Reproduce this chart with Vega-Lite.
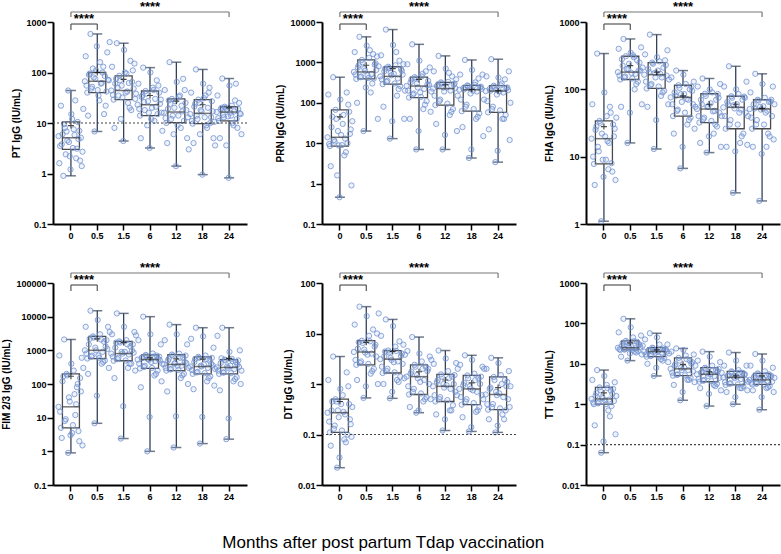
{
"$schema":"https://vega.github.io/schema/vega-lite/v6.json",
"padding":{"left":1,"top":0,"right":0,"bottom":0},
"columns":3,
"spacing":{"row":21,"column":27},
"title":{"text":"Months after post partum Tdap vaccination","orient":"bottom","anchor":"middle","fontSize":17,"fontWeight":"normal","font":"Liberation Sans","color":"black","offset":34,"dx":-8},
"config":{"view":{"stroke":null},"font":"Liberation Sans",
"axis":{"grid":false,"domainColor":"black","domainWidth":2,"tickColor":"black","tickWidth":1.5,"tickSize":6,"labelFont":"Liberation Sans","labelFontSize":9,"labelFontWeight":"bold","labelColor":"black","labelPadding":1,"titleFont":"Liberation Sans","titleFontSize":10,"titleFontWeight":"bold","titleColor":"black","titlePadding":4}},
"concat":[
{"width":194,"height":202,"layer":[
 {"data":{"values":[
  {"m":"0","min":0.9,"q1":3,"med":5.1,"q3":10.5,"max":44,"mean":8.9,"v":[5.5,1.6,3.5,22,3.8,6,0.9,9.5,8,2.4,6.8,4.5,44,4.2,2.2,1.2,15,12,3.2,7.5,5.8,28,2.0,3.1,10.5,4.8,7,1.8,5.1,1.4,2.7,19]},
  {"m":"0.5","min":6.8,"q1":40,"med":67,"q3":100,"max":580,"mean":100,"v":[67,210,55,40,14,90,95,580,48,52,120,80,6.8,75,110,330,45,35,28,160,60,62,100,130,15,85,22,42,250,72,70,400]},
  {"m":"1.5","min":4.4,"q1":29,"med":44,"q3":86,"max":380,"mean":73,"v":[44,130,36,29,8,60,75,380,50,35,86,70,12,55,32,4.4,280,100,40,95,42,25,62,20,170,18,65,110,48,150,30,38]},
  {"m":"6","min":3.2,"q1":14,"med":23,"q3":43,"max":125,"mean":35,"v":[23,60,19,14,5,33,35,125,26,18,43,38,9,27,16,3.2,100,12,20,50,45,11,30,21,70,15,55,40,24,29,16,7]},
  {"m":"12","min":1.4,"q1":10.2,"med":16.5,"q3":30,"max":160,"mean":27,"v":[16,45,12.5,10,4,19,28,160,24,12,30,14,6,20,27,1.4,65,9,14,33,35,8,22,17,75,11,45,25,18,5,13,3]},
  {"m":"18","min":0.95,"q1":9.7,"med":15.5,"q3":29,"max":115,"mean":23,"v":[15,40,11,9.7,4,21,24,115,14,12,29,25,6,18,17,0.95,60,31,13,35,9,8,20,40,50,10,13,27,17,5,10.5,3.6]},
  {"m":"24","min":0.82,"q1":11,"med":16.5,"q3":21,"max":76,"mean":20,"v":[16.5,35,12.5,11,5,18.5,20,76,14.5,13,21,20,3.6,18,13.5,0.82,55,16,14,22,10,9,17,28,60,12,8,19,25,15.5,15,6]}
 ]},
 "encoding":{"x":{"field":"m","type":"ordinal","sort":null,"scale":{"domain":["0","0.5","1.5","6","12","18","24"],"paddingInner":0,"paddingOuter":0.18},"axis":{"title":null,"labelAngle":0}}},
 "layer":[
  {"mark":{"type":"rule","color":"#33425a","strokeWidth":1.3},"encoding":{"y":{"field":"min","type":"quantitative","scale":{"type":"log","domain":[0.1,1000],"nice":false},"axis":{"title":"PT IgG (IU/mL)","values":[0.1,1,10,100,1000],"format":"~g"}},"y2":{"field":"max"}}},
  {"mark":{"type":"tick","color":"#33425a","size":10,"thickness":1.5},"encoding":{"y":{"field":"min","type":"quantitative"}}},
  {"mark":{"type":"tick","color":"#33425a","size":10,"thickness":1.5},"encoding":{"y":{"field":"max","type":"quantitative"}}},
  {"mark":{"type":"bar","width":17,"fill":"white","stroke":"#4a4a4a","strokeWidth":1.3},"encoding":{"y":{"field":"q1","type":"quantitative"},"y2":{"field":"q3"}}},
  {"transform":[{"flatten":["v"]},{"window":[{"op":"row_number","as":"s"}],"groupby":["m"]}],"mark":{"type":"point","filled":true,"size":28,"stroke":"#7394d2","strokeWidth":1,"strokeOpacity":0.8,"fill":"#7394d2","fillOpacity":0.12},"encoding":{"y":{"field":"v","type":"quantitative"},"xOffset":{"field":"s","type":"nominal","scale":{"paddingOuter":5.5}}}},
  {"mark":{"type":"tick","color":"#3a3a3a","size":17,"thickness":1.5},"encoding":{"y":{"field":"med","type":"quantitative"}}},
  {"mark":{"type":"point","shape":"M-1,0L1,0M0,-1L0,1","size":36,"stroke":"black","strokeWidth":1.2,"filled":false},"encoding":{"y":{"field":"mean","type":"quantitative"}}}
 ]},
 {"data":{"values":[{}]},"mark":{"type":"rule","color":"#444","strokeDash":[2,2],"strokeWidth":1.2},"encoding":{"y":{"datum":10,"type":"quantitative"}}},
 {"data":{"values":[{}]},"mark":{"type":"rule","color":"#555","strokeWidth":1.2},"encoding":{"x":{"datum":"0","type":"ordinal"},"x2":{"datum":"0.5"},"y":{"datum":912,"type":"quantitative"}}},
 {"data":{"values":[{}]},"mark":{"type":"rule","color":"#555","strokeWidth":1.2},"encoding":{"x":{"datum":"0","type":"ordinal"},"y":{"datum":912,"type":"quantitative"},"y2":{"datum":695}}},
 {"data":{"values":[{}]},"mark":{"type":"rule","color":"#555","strokeWidth":1.2},"encoding":{"x":{"datum":"0.5","type":"ordinal"},"y":{"datum":912,"type":"quantitative"},"y2":{"datum":695}}},
 {"data":{"values":[{}]},"mark":{"type":"rule","color":"#777","strokeWidth":1.2},"encoding":{"x":{"datum":"0","type":"ordinal"},"x2":{"datum":"24"},"y":{"datum":1578,"type":"quantitative"}}},
 {"data":{"values":[{}]},"mark":{"type":"rule","color":"#777","strokeWidth":1.2},"encoding":{"x":{"datum":"0","type":"ordinal"},"y":{"datum":1578,"type":"quantitative"},"y2":{"datum":1256}}},
 {"data":{"values":[{}]},"mark":{"type":"rule","color":"#777","strokeWidth":1.2},"encoding":{"x":{"datum":"24","type":"ordinal"},"y":{"datum":1578,"type":"quantitative"},"y2":{"datum":1256}}},
 {"data":{"values":[{}]},"mark":{"type":"text","text":"****","fontSize":13,"fontWeight":"bold","baseline":"alphabetic","dx":13,"dy":-1},"encoding":{"x":{"datum":"0","type":"ordinal"},"y":{"datum":912,"type":"quantitative"}}},
 {"data":{"values":[{}]},"mark":{"type":"text","text":"****","fontSize":13,"fontWeight":"bold","baseline":"alphabetic","dy":-1},"encoding":{"x":{"datum":"6","type":"ordinal"},"y":{"datum":1578,"type":"quantitative"}}}
]},
{"width":194,"height":202,"layer":[
 {"data":{"values":[
  {"m":"0","min":0.46,"q1":8.5,"med":14,"q3":67,"max":430,"mean":45,"v":[14,160,9.5,8.5,2.7,25,45,430,12,11,67,40,1.6,20,8.8,0.46,120,16,9,30,50,5,13,6,180,10,90,60,17,22,0.9,35]},
  {"m":"0.5","min":20,"q1":390,"med":580,"q3":1150,"max":4300,"mean":850,"v":[580,1800,500,390,100,750,850,4300,430,450,1150,1000,20,700,620,240,2600,480,410,1300,2000,180,520,300,1600,400,880,950,650,1400,40,800]},
  {"m":"1.5","min":13,"q1":290,"med":450,"q3":780,"max":6500,"mean":700,"v":[450,1500,380,290,80,600,700,6500,330,350,780,720,13,550,480,35,2700,520,300,850,1800,150,400,220,1100,260,680,620,500,900,40,200]},
  {"m":"6","min":7,"q1":135,"med":260,"q3":430,"max":2800,"mean":380,"v":[260,900,200,135,40,320,380,2800,160,170,430,400,7,300,240,20,1100,180,140,450,520,70,220,90,600,110,280,350,280,750,60,190]},
  {"m":"12","min":7,"q1":88,"med":225,"q3":320,"max":1450,"mean":280,"v":[225,600,150,88,30,260,280,1450,110,120,320,300,7,240,190,16,700,240,95,330,550,50,200,60,450,70,280,300,230,380,20,150]},
  {"m":"18","min":4.3,"q1":62,"med":210,"q3":270,"max":1150,"mean":215,"v":[210,500,120,62,25,230,215,1150,80,90,270,260,4.3,230,170,7,650,200,70,280,320,40,190,45,400,55,240,250,220,500,15,120]},
  {"m":"24","min":3.4,"q1":58,"med":195,"q3":265,"max":1200,"mean":200,"v":[195,450,110,58,22,220,200,1200,70,80,265,250,3.4,210,160,6.5,420,190,65,270,300,40,180,40,380,50,230,240,205,600,12,100]}
 ]},
 "encoding":{"x":{"field":"m","type":"ordinal","sort":null,"scale":{"domain":["0","0.5","1.5","6","12","18","24"],"paddingInner":0,"paddingOuter":0.18},"axis":{"title":null,"labelAngle":0}}},
 "layer":[
  {"mark":{"type":"rule","color":"#33425a","strokeWidth":1.3},"encoding":{"y":{"field":"min","type":"quantitative","scale":{"type":"log","domain":[0.1,10000],"nice":false},"axis":{"title":"PRN IgG (IU/mL)","values":[0.1,1,10,100,1000,10000],"format":"~g"}},"y2":{"field":"max"}}},
  {"mark":{"type":"tick","color":"#33425a","size":10,"thickness":1.5},"encoding":{"y":{"field":"min","type":"quantitative"}}},
  {"mark":{"type":"tick","color":"#33425a","size":10,"thickness":1.5},"encoding":{"y":{"field":"max","type":"quantitative"}}},
  {"mark":{"type":"bar","width":17,"fill":"white","stroke":"#4a4a4a","strokeWidth":1.3},"encoding":{"y":{"field":"q1","type":"quantitative"},"y2":{"field":"q3"}}},
  {"transform":[{"flatten":["v"]},{"window":[{"op":"row_number","as":"s"}],"groupby":["m"]}],"mark":{"type":"point","filled":true,"size":28,"stroke":"#7394d2","strokeWidth":1,"strokeOpacity":0.8,"fill":"#7394d2","fillOpacity":0.12},"encoding":{"y":{"field":"v","type":"quantitative"},"xOffset":{"field":"s","type":"nominal","scale":{"paddingOuter":5.5}}}},
  {"mark":{"type":"tick","color":"#3a3a3a","size":17,"thickness":1.5},"encoding":{"y":{"field":"med","type":"quantitative"}}},
  {"mark":{"type":"point","shape":"M-1,0L1,0M0,-1L0,1","size":36,"stroke":"black","strokeWidth":1.2,"filled":false},"encoding":{"y":{"field":"mean","type":"quantitative"}}}
 ]},
 {"data":{"values":[{}]},"mark":{"type":"rule","color":"#555","strokeWidth":1.2},"encoding":{"x":{"datum":"0","type":"ordinal"},"x2":{"datum":"0.5"},"y":{"datum":8925,"type":"quantitative"}}},
 {"data":{"values":[{}]},"mark":{"type":"rule","color":"#555","strokeWidth":1.2},"encoding":{"x":{"datum":"0","type":"ordinal"},"y":{"datum":8925,"type":"quantitative"},"y2":{"datum":6339}}},
 {"data":{"values":[{}]},"mark":{"type":"rule","color":"#555","strokeWidth":1.2},"encoding":{"x":{"datum":"0.5","type":"ordinal"},"y":{"datum":8925,"type":"quantitative"},"y2":{"datum":6339}}},
 {"data":{"values":[{}]},"mark":{"type":"rule","color":"#777","strokeWidth":1.2},"encoding":{"x":{"datum":"0","type":"ordinal"},"x2":{"datum":"24"},"y":{"datum":17680,"type":"quantitative"}}},
 {"data":{"values":[{}]},"mark":{"type":"rule","color":"#777","strokeWidth":1.2},"encoding":{"x":{"datum":"0","type":"ordinal"},"y":{"datum":17680,"type":"quantitative"},"y2":{"datum":13300}}},
 {"data":{"values":[{}]},"mark":{"type":"rule","color":"#777","strokeWidth":1.2},"encoding":{"x":{"datum":"24","type":"ordinal"},"y":{"datum":17680,"type":"quantitative"},"y2":{"datum":13300}}},
 {"data":{"values":[{}]},"mark":{"type":"text","text":"****","fontSize":13,"fontWeight":"bold","baseline":"alphabetic","dx":13,"dy":-1},"encoding":{"x":{"datum":"0","type":"ordinal"},"y":{"datum":8925,"type":"quantitative"}}},
 {"data":{"values":[{}]},"mark":{"type":"text","text":"****","fontSize":13,"fontWeight":"bold","baseline":"alphabetic","dy":-1},"encoding":{"x":{"datum":"6","type":"ordinal"},"y":{"datum":17680,"type":"quantitative"}}}
]},
{"width":194,"height":202,"layer":[
 {"data":{"values":[
  {"m":"0","min":1.1,"q1":7.8,"med":18.5,"q3":34,"max":340,"mean":28,"v":[18.5,60,10,7.8,3.8,25,28,340,14,12,34,32,1.1,22,9,5,90,20,9,40,17,6.5,16,55,45,8,6,30,20,26,4.5,38]},
  {"m":"0.5","min":16,"q1":140,"med":180,"q3":310,"max":560,"mean":225,"v":[180,400,160,140,55,280,225,560,150,155,310,200,16,200,240,45,350,175,145,320,300,100,170,120,270,130,190,250,190,420,60,210]},
  {"m":"1.5","min":13,"q1":103,"med":165,"q3":250,"max":650,"mean":180,"v":[165,330,130,103,55,200,180,650,115,120,250,240,13,175,150,35,300,190,110,260,170,80,150,90,210,95,270,230,160,380,60,140]},
  {"m":"6","min":6.7,"q1":40,"med":76,"q3":115,"max":190,"mean":80,"v":[76,150,60,40,22,90,80,190,48,50,115,105,6.7,85,65,14,165,85,45,120,72,30,70,35,100,38,110,95,60,130,26,55]},
  {"m":"12","min":11.5,"q1":32,"med":51,"q3":86,"max":145,"mean":60,"v":[51,110,40,32,16,70,60,145,36,38,86,80,11.5,55,55,20,100,62,34,90,47,22,48,30,70,28,85,75,45,120,14,40]},
  {"m":"18","min":2.9,"q1":26,"med":54,"q3":79,"max":220,"mean":60,"v":[54,110,40,26,14,65,60,220,30,35,79,75,2.9,58,52,12,100,60,30,85,45,16,50,20,70,22,78,75,45,130,15,40]},
  {"m":"24","min":2.2,"q1":26,"med":51,"q3":70,"max":170,"mean":52,"v":[51,90,38,26,14,60,52,170,30,35,70,68,2.2,55,50,11,120,56,30,75,45,14,48,22,65,20,66,70,40,110,18,60]}
 ]},
 "encoding":{"x":{"field":"m","type":"ordinal","sort":null,"scale":{"domain":["0","0.5","1.5","6","12","18","24"],"paddingInner":0,"paddingOuter":0.18},"axis":{"title":null,"labelAngle":0}}},
 "layer":[
  {"mark":{"type":"rule","color":"#33425a","strokeWidth":1.3},"encoding":{"y":{"field":"min","type":"quantitative","scale":{"type":"log","domain":[1,1000],"nice":false},"axis":{"title":"FHA IgG (IU/mL)","values":[1,10,100,1000],"format":"~g"}},"y2":{"field":"max"}}},
  {"mark":{"type":"tick","color":"#33425a","size":10,"thickness":1.5},"encoding":{"y":{"field":"min","type":"quantitative"}}},
  {"mark":{"type":"tick","color":"#33425a","size":10,"thickness":1.5},"encoding":{"y":{"field":"max","type":"quantitative"}}},
  {"mark":{"type":"bar","width":17,"fill":"white","stroke":"#4a4a4a","strokeWidth":1.3},"encoding":{"y":{"field":"q1","type":"quantitative"},"y2":{"field":"q3"}}},
  {"transform":[{"flatten":["v"]},{"window":[{"op":"row_number","as":"s"}],"groupby":["m"]}],"mark":{"type":"point","filled":true,"size":28,"stroke":"#7394d2","strokeWidth":1,"strokeOpacity":0.8,"fill":"#7394d2","fillOpacity":0.12},"encoding":{"y":{"field":"v","type":"quantitative"},"xOffset":{"field":"s","type":"nominal","scale":{"paddingOuter":5.5}}}},
  {"mark":{"type":"tick","color":"#3a3a3a","size":17,"thickness":1.5},"encoding":{"y":{"field":"med","type":"quantitative"}}},
  {"mark":{"type":"point","shape":"M-1,0L1,0M0,-1L0,1","size":36,"stroke":"black","strokeWidth":1.2,"filled":false},"encoding":{"y":{"field":"mean","type":"quantitative"}}}
 ]},
 {"data":{"values":[{}]},"mark":{"type":"rule","color":"#555","strokeWidth":1.2},"encoding":{"x":{"datum":"0","type":"ordinal"},"x2":{"datum":"0.5"},"y":{"datum":934,"type":"quantitative"}}},
 {"data":{"values":[{}]},"mark":{"type":"rule","color":"#555","strokeWidth":1.2},"encoding":{"x":{"datum":"0","type":"ordinal"},"y":{"datum":934,"type":"quantitative"},"y2":{"datum":760}}},
 {"data":{"values":[{}]},"mark":{"type":"rule","color":"#555","strokeWidth":1.2},"encoding":{"x":{"datum":"0.5","type":"ordinal"},"y":{"datum":934,"type":"quantitative"},"y2":{"datum":760}}},
 {"data":{"values":[{}]},"mark":{"type":"rule","color":"#777","strokeWidth":1.2},"encoding":{"x":{"datum":"0","type":"ordinal"},"x2":{"datum":"24"},"y":{"datum":1408,"type":"quantitative"}}},
 {"data":{"values":[{}]},"mark":{"type":"rule","color":"#777","strokeWidth":1.2},"encoding":{"x":{"datum":"0","type":"ordinal"},"y":{"datum":1408,"type":"quantitative"},"y2":{"datum":1187}}},
 {"data":{"values":[{}]},"mark":{"type":"rule","color":"#777","strokeWidth":1.2},"encoding":{"x":{"datum":"24","type":"ordinal"},"y":{"datum":1408,"type":"quantitative"},"y2":{"datum":1187}}},
 {"data":{"values":[{}]},"mark":{"type":"text","text":"****","fontSize":13,"fontWeight":"bold","baseline":"alphabetic","dx":13,"dy":-1},"encoding":{"x":{"datum":"0","type":"ordinal"},"y":{"datum":934,"type":"quantitative"}}},
 {"data":{"values":[{}]},"mark":{"type":"text","text":"****","fontSize":13,"fontWeight":"bold","baseline":"alphabetic","dy":-1},"encoding":{"x":{"datum":"6","type":"ordinal"},"y":{"datum":1408,"type":"quantitative"}}}
]},
{"width":194,"height":202,"layer":[
 {"data":{"values":[
  {"m":"0","min":0.9,"q1":5,"med":21,"q3":200,"max":2100,"mean":170,"v":[21,700,15,5,2.5,120,170,2100,8,9,200,180,0.9,40,30,3,400,3.5,6,250,50,12,25,80,100,4,2,150,60,600,1.5,300]},
  {"m":"0.5","min":6.8,"q1":570,"med":1000,"q3":2600,"max":15000,"mean":2200,"v":[1000,5000,800,570,200,1500,2200,15000,650,700,2600,2400,6.8,1200,1000,45,8000,700,600,3000,2100,400,900,450,1800,500,1300,2000,1100,5000,300,3500]},
  {"m":"1.5","min":2.4,"q1":490,"med":800,"q3":1850,"max":12500,"mean":1700,"v":[800,3000,650,490,150,1200,1700,12500,550,600,1850,1700,2.4,900,800,22,5000,900,500,2000,1500,300,750,400,1300,400,1000,1500,850,3500,250,2800]},
  {"m":"6","min":1,"q1":290,"med":530,"q3":730,"max":10000,"mean":600,"v":[530,2000,400,290,80,600,600,10000,320,350,730,700,1,550,520,10.5,3000,450,300,800,650,180,480,200,700,250,550,650,500,1500,120,400]},
  {"m":"12","min":1.3,"q1":250,"med":380,"q3":750,"max":5800,"mean":560,"v":[380,2000,300,250,60,500,560,5800,270,280,750,700,1.3,400,420,11,3000,350,260,800,600,150,350,180,600,200,450,700,420,1500,100,300]},
  {"m":"18","min":1.7,"q1":200,"med":330,"q3":640,"max":4700,"mean":550,"v":[330,2200,260,200,70,450,550,4700,220,230,640,600,1.7,350,330,10.5,2600,380,210,700,550,120,300,150,500,170,400,600,360,1200,90,280]},
  {"m":"24","min":2.3,"q1":200,"med":310,"q3":530,"max":4700,"mean":580,"v":[310,2700,250,200,65,420,580,4700,220,220,530,500,2.3,330,300,9.5,900,350,210,560,480,120,280,140,450,160,380,500,320,1000,100,250]}
 ]},
 "encoding":{"x":{"field":"m","type":"ordinal","sort":null,"scale":{"domain":["0","0.5","1.5","6","12","18","24"],"paddingInner":0,"paddingOuter":0.18},"axis":{"title":null,"labelAngle":0}}},
 "layer":[
  {"mark":{"type":"rule","color":"#33425a","strokeWidth":1.3},"encoding":{"y":{"field":"min","type":"quantitative","scale":{"type":"log","domain":[0.1,100000],"nice":false},"axis":{"title":"FIM 2/3 IgG (IU/mL)","values":[0.1,1,10,100,1000,10000,100000],"format":"~g"}},"y2":{"field":"max"}}},
  {"mark":{"type":"tick","color":"#33425a","size":10,"thickness":1.5},"encoding":{"y":{"field":"min","type":"quantitative"}}},
  {"mark":{"type":"tick","color":"#33425a","size":10,"thickness":1.5},"encoding":{"y":{"field":"max","type":"quantitative"}}},
  {"mark":{"type":"bar","width":17,"fill":"white","stroke":"#4a4a4a","strokeWidth":1.3},"encoding":{"y":{"field":"q1","type":"quantitative"},"y2":{"field":"q3"}}},
  {"transform":[{"flatten":["v"]},{"window":[{"op":"row_number","as":"s"}],"groupby":["m"]}],"mark":{"type":"point","filled":true,"size":28,"stroke":"#7394d2","strokeWidth":1,"strokeOpacity":0.8,"fill":"#7394d2","fillOpacity":0.12},"encoding":{"y":{"field":"v","type":"quantitative"},"xOffset":{"field":"s","type":"nominal","scale":{"paddingOuter":5.5}}}},
  {"mark":{"type":"tick","color":"#3a3a3a","size":17,"thickness":1.5},"encoding":{"y":{"field":"med","type":"quantitative"}}},
  {"mark":{"type":"point","shape":"M-1,0L1,0M0,-1L0,1","size":36,"stroke":"black","strokeWidth":1.2,"filled":false},"encoding":{"y":{"field":"mean","type":"quantitative"}}}
 ]},
 {"data":{"values":[{}]},"mark":{"type":"rule","color":"#555","strokeWidth":1.2},"encoding":{"x":{"datum":"0","type":"ordinal"},"x2":{"datum":"0.5"},"y":{"datum":87200,"type":"quantitative"}}},
 {"data":{"values":[{}]},"mark":{"type":"rule","color":"#555","strokeWidth":1.2},"encoding":{"x":{"datum":"0","type":"ordinal"},"y":{"datum":87200,"type":"quantitative"},"y2":{"datum":57900}}},
 {"data":{"values":[{}]},"mark":{"type":"rule","color":"#555","strokeWidth":1.2},"encoding":{"x":{"datum":"0.5","type":"ordinal"},"y":{"datum":87200,"type":"quantitative"},"y2":{"datum":57900}}},
 {"data":{"values":[{}]},"mark":{"type":"rule","color":"#777","strokeWidth":1.2},"encoding":{"x":{"datum":"0","type":"ordinal"},"x2":{"datum":"24"},"y":{"datum":198000,"type":"quantitative"}}},
 {"data":{"values":[{}]},"mark":{"type":"rule","color":"#777","strokeWidth":1.2},"encoding":{"x":{"datum":"0","type":"ordinal"},"y":{"datum":198000,"type":"quantitative"},"y2":{"datum":140700}}},
 {"data":{"values":[{}]},"mark":{"type":"rule","color":"#777","strokeWidth":1.2},"encoding":{"x":{"datum":"24","type":"ordinal"},"y":{"datum":198000,"type":"quantitative"},"y2":{"datum":140700}}},
 {"data":{"values":[{}]},"mark":{"type":"text","text":"****","fontSize":13,"fontWeight":"bold","baseline":"alphabetic","dx":13,"dy":-1},"encoding":{"x":{"datum":"0","type":"ordinal"},"y":{"datum":87200,"type":"quantitative"}}},
 {"data":{"values":[{}]},"mark":{"type":"text","text":"****","fontSize":13,"fontWeight":"bold","baseline":"alphabetic","dy":-1},"encoding":{"x":{"datum":"6","type":"ordinal"},"y":{"datum":198000,"type":"quantitative"}}}
]},
{"width":194,"height":202,"layer":[
 {"data":{"values":[
  {"m":"0","min":0.022,"q1":0.11,"med":0.27,"q3":0.5,"max":3.5,"mean":0.45,"v":[0.27,1.2,0.18,0.11,0.06,0.3,0.45,3.5,0.13,0.15,0.5,0.45,0.022,0.3,0.22,0.035,0.8,0.4,0.12,0.6,0.28,0.08,0.25,0.07,1.7,0.1,0.9,0.4,0.2,0.16,0.09,0.35]},
  {"m":"0.5","min":0.53,"q1":2.4,"med":4.3,"q3":7.2,"max":34,"mean":6.7,"v":[4.3,15,3,2.4,1.2,5,6.7,34,2.6,2.8,7.2,6.5,0.53,4.8,4.2,0.9,22,3.8,2.5,9,7,1.6,4,1.8,12,2,5.5,6,3.5,10,1,25]},
  {"m":"1.5","min":0.52,"q1":1.65,"med":3.1,"q3":4.6,"max":19,"mean":4.4,"v":[3.1,9,2.2,1.65,1,3.5,4.4,19,1.8,2,4.6,4.2,0.52,3.3,3,0.7,14,2.7,1.7,5.5,4.5,1.2,2.8,1.1,7,1.4,3.6,4,2.5,6,1.3,3.8]},
  {"m":"6","min":0.27,"q1":0.62,"med":1.4,"q3":2.4,"max":8.5,"mean":1.75,"v":[1.4,4.5,0.9,0.62,0.35,1.6,1.75,8.5,0.7,0.8,2.4,2.2,0.27,1.5,1.3,0.3,4,1.1,0.65,2.8,2,0.45,1.2,0.5,2.2,0.55,1.8,2,1,3.5,0.5,3]},
  {"m":"12","min":0.12,"q1":0.45,"med":0.9,"q3":1.55,"max":4.6,"mean":1.2,"v":[0.9,2.5,0.6,0.45,0.25,1.1,1.2,4.6,0.5,0.55,1.55,1.4,0.12,1,0.85,0.2,3.2,0.95,0.48,1.8,1.3,0.3,0.8,0.3,1.4,0.38,1,1.5,0.7,2.6,0.6,2]},
  {"m":"18","min":0.115,"q1":0.39,"med":0.8,"q3":1.48,"max":3.7,"mean":1.05,"v":[0.8,2.4,0.55,0.39,0.22,0.95,1.05,3.7,0.45,0.5,1.48,1.3,0.115,0.9,0.8,0.14,3,0.75,0.42,1.6,1.2,0.28,0.7,0.3,1.3,0.35,1,1.4,0.6,2.2,0.5,2]},
  {"m":"24","min":0.11,"q1":0.31,"med":0.62,"q3":1.38,"max":3.3,"mean":0.85,"v":[0.62,2,0.4,0.31,0.2,0.8,0.85,3.3,0.35,0.4,1.38,1.2,0.11,0.7,0.6,0.15,2.6,0.65,0.33,1.5,1,0.25,0.55,0.2,1.2,0.3,0.9,1.1,0.5,1.8,0.35,0.9]}
 ]},
 "encoding":{"x":{"field":"m","type":"ordinal","sort":null,"scale":{"domain":["0","0.5","1.5","6","12","18","24"],"paddingInner":0,"paddingOuter":0.18},"axis":{"title":null,"labelAngle":0}}},
 "layer":[
  {"mark":{"type":"rule","color":"#33425a","strokeWidth":1.3},"encoding":{"y":{"field":"min","type":"quantitative","scale":{"type":"log","domain":[0.01,100],"nice":false},"axis":{"title":"DT IgG (IU/mL)","values":[0.01,0.1,1,10,100],"format":"~g"}},"y2":{"field":"max"}}},
  {"mark":{"type":"tick","color":"#33425a","size":10,"thickness":1.5},"encoding":{"y":{"field":"min","type":"quantitative"}}},
  {"mark":{"type":"tick","color":"#33425a","size":10,"thickness":1.5},"encoding":{"y":{"field":"max","type":"quantitative"}}},
  {"mark":{"type":"bar","width":17,"fill":"white","stroke":"#4a4a4a","strokeWidth":1.3},"encoding":{"y":{"field":"q1","type":"quantitative"},"y2":{"field":"q3"}}},
  {"transform":[{"flatten":["v"]},{"window":[{"op":"row_number","as":"s"}],"groupby":["m"]}],"mark":{"type":"point","filled":true,"size":28,"stroke":"#7394d2","strokeWidth":1,"strokeOpacity":0.8,"fill":"#7394d2","fillOpacity":0.12},"encoding":{"y":{"field":"v","type":"quantitative"},"xOffset":{"field":"s","type":"nominal","scale":{"paddingOuter":5.5}}}},
  {"mark":{"type":"tick","color":"#3a3a3a","size":17,"thickness":1.5},"encoding":{"y":{"field":"med","type":"quantitative"}}},
  {"mark":{"type":"point","shape":"M-1,0L1,0M0,-1L0,1","size":36,"stroke":"black","strokeWidth":1.2,"filled":false},"encoding":{"y":{"field":"mean","type":"quantitative"}}}
 ]},
 {"data":{"values":[{}]},"mark":{"type":"rule","color":"#444","strokeDash":[2,2],"strokeWidth":1.2},"encoding":{"y":{"datum":0.1,"type":"quantitative"}}},
 {"data":{"values":[{}]},"mark":{"type":"rule","color":"#555","strokeWidth":1.2},"encoding":{"x":{"datum":"0","type":"ordinal"},"x2":{"datum":"0.5"},"y":{"datum":91.2,"type":"quantitative"}}},
 {"data":{"values":[{}]},"mark":{"type":"rule","color":"#555","strokeWidth":1.2},"encoding":{"x":{"datum":"0","type":"ordinal"},"y":{"datum":91.2,"type":"quantitative"},"y2":{"datum":69.5}}},
 {"data":{"values":[{}]},"mark":{"type":"rule","color":"#555","strokeWidth":1.2},"encoding":{"x":{"datum":"0.5","type":"ordinal"},"y":{"datum":91.2,"type":"quantitative"},"y2":{"datum":69.5}}},
 {"data":{"values":[{}]},"mark":{"type":"rule","color":"#777","strokeWidth":1.2},"encoding":{"x":{"datum":"0","type":"ordinal"},"x2":{"datum":"24"},"y":{"datum":157.8,"type":"quantitative"}}},
 {"data":{"values":[{}]},"mark":{"type":"rule","color":"#777","strokeWidth":1.2},"encoding":{"x":{"datum":"0","type":"ordinal"},"y":{"datum":157.8,"type":"quantitative"},"y2":{"datum":125.6}}},
 {"data":{"values":[{}]},"mark":{"type":"rule","color":"#777","strokeWidth":1.2},"encoding":{"x":{"datum":"24","type":"ordinal"},"y":{"datum":157.8,"type":"quantitative"},"y2":{"datum":125.6}}},
 {"data":{"values":[{}]},"mark":{"type":"text","text":"****","fontSize":13,"fontWeight":"bold","baseline":"alphabetic","dx":13,"dy":-1},"encoding":{"x":{"datum":"0","type":"ordinal"},"y":{"datum":91.2,"type":"quantitative"}}},
 {"data":{"values":[{}]},"mark":{"type":"text","text":"****","fontSize":13,"fontWeight":"bold","baseline":"alphabetic","dy":-1},"encoding":{"x":{"datum":"6","type":"ordinal"},"y":{"datum":157.8,"type":"quantitative"}}}
]},
{"width":194,"height":202,"layer":[
 {"data":{"values":[
  {"m":"0","min":0.063,"q1":1,"med":1.35,"q3":2.6,"max":7,"mean":1.9,"v":[1.35,4,1.1,1,0.3,1.6,1.9,7,1.05,1.1,2.6,2.2,0.063,1.5,1.4,0.12,5,1.25,1,3,2.5,0.7,1.3,0.5,2.2,0.9,1.8,2.4,1.2,3.5,0.18,1.6]},
  {"m":"0.5","min":12,"q1":22,"med":25,"q3":37,"max":130,"mean":33,"v":[25,60,23,22,15,28,33,130,22.5,23,37,34,12,27,25,18,80,26,22,45,36,20,24,19,35,21,30,30,26,50,17,28]},
  {"m":"1.5","min":5,"q1":15,"med":20,"q3":25,"max":57,"mean":22,"v":[20,40,17,15,10,21,22,57,15.5,16,25,24,5,21,19,8,45,20,15,30,23,13,19,12,24,14,22,23,20,30,11,18]},
  {"m":"6","min":1.25,"q1":5.1,"med":7.5,"q3":14,"max":24,"mean":9.7,"v":[7.5,20,6,5.1,3,9,9.7,24,5.3,5.5,14,12,1.25,8,7,2,22,8,5.2,16,13,4,7,4,12,4.5,10,11,6.5,17,3.5,9]},
  {"m":"12","min":0.9,"q1":3.6,"med":5.5,"q3":8,"max":20,"mean":6.3,"v":[5.5,12,4.2,3.6,2.5,6,6.3,20,3.8,4,8,7.5,0.9,5.8,5,1.8,15,5.5,3.7,9,7,3,5,2.8,7,3.2,6.5,7.5,4.5,11,2.2,6]},
  {"m":"18","min":1,"q1":3,"med":4.6,"q3":6.5,"max":19,"mean":5,"v":[4.6,9,3.5,3,2,5,5,19,3.2,3.3,6.5,6.2,1,4.8,4.4,1.5,12,4.8,3.1,7,6,2.5,4.2,2.5,6,2.8,5.5,5.5,4,9,2.2,3.6]},
  {"m":"24","min":0.73,"q1":3.1,"med":4,"q3":5.8,"max":17.5,"mean":5,"v":[4,9,3.4,3.1,2.2,4.5,5,17.5,3.2,3.3,5.8,5.5,0.73,4.2,4,1.5,12,4.2,3.1,6.5,5.2,2.5,3.8,2.6,5.5,2.8,4.8,5,3.6,8,2,4.5]}
 ]},
 "encoding":{"x":{"field":"m","type":"ordinal","sort":null,"scale":{"domain":["0","0.5","1.5","6","12","18","24"],"paddingInner":0,"paddingOuter":0.18},"axis":{"title":null,"labelAngle":0}}},
 "layer":[
  {"mark":{"type":"rule","color":"#33425a","strokeWidth":1.3},"encoding":{"y":{"field":"min","type":"quantitative","scale":{"type":"log","domain":[0.01,1000],"nice":false},"axis":{"title":"TT IgG (IU/mL)","values":[0.01,0.1,1,10,100,1000],"format":"~g"}},"y2":{"field":"max"}}},
  {"mark":{"type":"tick","color":"#33425a","size":10,"thickness":1.5},"encoding":{"y":{"field":"min","type":"quantitative"}}},
  {"mark":{"type":"tick","color":"#33425a","size":10,"thickness":1.5},"encoding":{"y":{"field":"max","type":"quantitative"}}},
  {"mark":{"type":"bar","width":17,"fill":"white","stroke":"#4a4a4a","strokeWidth":1.3},"encoding":{"y":{"field":"q1","type":"quantitative"},"y2":{"field":"q3"}}},
  {"transform":[{"flatten":["v"]},{"window":[{"op":"row_number","as":"s"}],"groupby":["m"]}],"mark":{"type":"point","filled":true,"size":28,"stroke":"#7394d2","strokeWidth":1,"strokeOpacity":0.8,"fill":"#7394d2","fillOpacity":0.12},"encoding":{"y":{"field":"v","type":"quantitative"},"xOffset":{"field":"s","type":"nominal","scale":{"paddingOuter":5.5}}}},
  {"mark":{"type":"tick","color":"#3a3a3a","size":17,"thickness":1.5},"encoding":{"y":{"field":"med","type":"quantitative"}}},
  {"mark":{"type":"point","shape":"M-1,0L1,0M0,-1L0,1","size":36,"stroke":"black","strokeWidth":1.2,"filled":false},"encoding":{"y":{"field":"mean","type":"quantitative"}}}
 ]},
 {"data":{"values":[{}]},"mark":{"type":"rule","color":"#444","strokeDash":[2,2],"strokeWidth":1.2},"encoding":{"y":{"datum":0.1,"type":"quantitative"}}},
 {"data":{"values":[{}]},"mark":{"type":"rule","color":"#555","strokeWidth":1.2},"encoding":{"x":{"datum":"0","type":"ordinal"},"x2":{"datum":"0.5"},"y":{"datum":892.5,"type":"quantitative"}}},
 {"data":{"values":[{}]},"mark":{"type":"rule","color":"#555","strokeWidth":1.2},"encoding":{"x":{"datum":"0","type":"ordinal"},"y":{"datum":892.5,"type":"quantitative"},"y2":{"datum":633.9}}},
 {"data":{"values":[{}]},"mark":{"type":"rule","color":"#555","strokeWidth":1.2},"encoding":{"x":{"datum":"0.5","type":"ordinal"},"y":{"datum":892.5,"type":"quantitative"},"y2":{"datum":633.9}}},
 {"data":{"values":[{}]},"mark":{"type":"rule","color":"#777","strokeWidth":1.2},"encoding":{"x":{"datum":"0","type":"ordinal"},"x2":{"datum":"24"},"y":{"datum":1768,"type":"quantitative"}}},
 {"data":{"values":[{}]},"mark":{"type":"rule","color":"#777","strokeWidth":1.2},"encoding":{"x":{"datum":"0","type":"ordinal"},"y":{"datum":1768,"type":"quantitative"},"y2":{"datum":1330}}},
 {"data":{"values":[{}]},"mark":{"type":"rule","color":"#777","strokeWidth":1.2},"encoding":{"x":{"datum":"24","type":"ordinal"},"y":{"datum":1768,"type":"quantitative"},"y2":{"datum":1330}}},
 {"data":{"values":[{}]},"mark":{"type":"text","text":"****","fontSize":13,"fontWeight":"bold","baseline":"alphabetic","dx":13,"dy":-1},"encoding":{"x":{"datum":"0","type":"ordinal"},"y":{"datum":892.5,"type":"quantitative"}}},
 {"data":{"values":[{}]},"mark":{"type":"text","text":"****","fontSize":13,"fontWeight":"bold","baseline":"alphabetic","dy":-1},"encoding":{"x":{"datum":"6","type":"ordinal"},"y":{"datum":1768,"type":"quantitative"}}}
]}
]
}
